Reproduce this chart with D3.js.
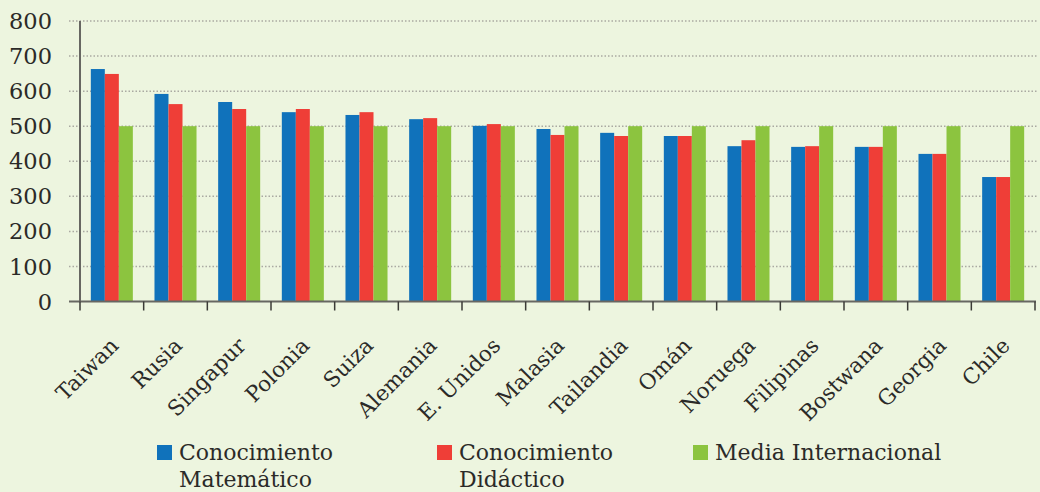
<!DOCTYPE html>
<html>
<head>
<meta charset="utf-8">
<script src="https://cdn.jsdelivr.net/npm/d3@7"></script>
<style>
  body { margin: 0; background: #edf5df; }
  svg { display: block; font-family: "DejaVu Serif", serif; }
</style>
</head>
<body>
<svg width="1040" height="492"></svg>
<script>
// countries, in the order shown
let countries = ["Taiwan", "Rusia", "Singapur", "Polonia", "Suiza", "Alemania", "E. Unidos",
    "Malasia", "Tailandia", "Omán", "Noruega", "Filipinas", "Bostwana", "Georgia", "Chile"];

let matematico = [663, 592, 569, 540, 532, 520, 501, 492, 481, 472, 443, 441, 441, 421, 355];
let didactico  = [649, 563, 549, 549, 540, 523, 506, 475, 472, 472, 460, 443, 441, 421, 355];
let media      = [500, 500, 500, 500, 500, 500, 500, 500, 500, 500, 500, 500, 500, 500, 500];

let seriesNames = ["Conocimiento Matemático", "Conocimiento Didáctico", "Media Internacional"];
let seriesColors = ["#1072bb", "#ef3e37", "#8cc43f"];
let yTicks = [0, 100, 200, 300, 400, 500, 600, 700, 800];

let svg = d3.select("svg");

let x = d3.scaleBand()
    .domain(countries)
    .range([80, 1035])
    .paddingInner(0.34)
    .paddingOuter(0.17);

let x1 = d3.scaleBand()
    .domain(seriesNames)
    .range([0, x.bandwidth()]);

let y = d3.scaleLinear()
    .domain([0, 800])
    .range([301.5, 21]);

let color = d3.scaleOrdinal().domain(seriesNames).range(seriesColors);

// dotted gridlines
svg.append("g")
    .selectAll("line")
    .data(yTicks.slice(1))
    .join("line")
    .attr("x1", 69)
    .attr("x2", 1037)
    .attr("y1", function (d) { return y(d); })
    .attr("y2", function (d) { return y(d); })
    .attr("stroke", "#aaa9a2")
    .attr("stroke-width", 1.5)
    .attr("stroke-dasharray", "1.5,2");

// y labels
svg.append("g")
    .selectAll("text")
    .data(yTicks)
    .join("text")
    .attr("x", 52)
    .attr("y", function (d) { return y(d); })
    .attr("dy", "0.36em")
    .attr("text-anchor", "end")
    .attr("font-size", 22.5)
    .attr("fill", "#2b2a28")
    .text(function (d) { return d; });

// bars
let rows = countries.map(function (c, i) {
    return { country: c, values: [matematico[i], didactico[i], media[i]] };
});

let groups = svg.append("g")
    .selectAll("g")
    .data(rows)
    .join("g")
    .attr("transform", function (d) { return "translate(" + x(d.country) + ",0)"; });

groups.selectAll("rect")
    .data(function (d) {
        return d.values.map(function (v, k) { return { key: seriesNames[k], value: v }; });
    })
    .join("rect")
    .attr("x", function (d) { return x1(d.key); })
    .attr("width", x1.bandwidth())
    .attr("y", function (d) { return y(d.value); })
    .attr("height", function (d) { return y(0) - y(d.value); })
    .attr("fill", function (d) { return color(d.key); });

// axes lines
let axisColor = "#676762";
svg.append("line")
    .attr("x1", 80).attr("x2", 80)
    .attr("y1", y(800)).attr("y2", y(0))
    .attr("stroke", axisColor).attr("stroke-width", 2);

svg.append("line")
    .attr("x1", 69).attr("x2", 1036)
    .attr("y1", y(0)).attr("y2", y(0))
    .attr("stroke", axisColor).attr("stroke-width", 2);

// category ticks at band boundaries
let boundaries = countries.map(function (c) { return x(c) - x.step() * x.paddingInner() / 2; });
boundaries.push(1035);
svg.append("g")
    .selectAll("line")
    .data(boundaries)
    .join("line")
    .attr("x1", function (d) { return d; })
    .attr("x2", function (d) { return d; })
    .attr("y1", y(0))
    .attr("y2", y(0) + 9)
    .attr("stroke", "#3a3a36")
    .attr("stroke-width", 1.5);

// rotated country labels
svg.append("g")
    .selectAll("text")
    .data(countries)
    .join("text")
    .attr("transform", function (d) {
        return "translate(" + (x(d) + x.bandwidth() / 2 + 8) + ",347) rotate(-45)";
    })
    .attr("text-anchor", "end")
    .attr("font-size", 21.5)
    .attr("fill", "#2b2a28")
    .text(function (d) { return d; });

// legend
let legendItems = [
    { lines: ["Conocimiento", "Matemático"], x: 157 },
    { lines: ["Conocimiento", "Didáctico"], x: 437 },
    { lines: ["Media Internacional"], x: 693 }
];

let legend = svg.append("g")
    .selectAll("g")
    .data(legendItems)
    .join("g")
    .attr("transform", function (d) { return "translate(" + d.x + ",445)"; });

legend.append("rect")
    .attr("width", 15)
    .attr("height", 15)
    .attr("fill", function (d, i) { return seriesColors[i]; });

legend.append("text")
    .attr("x", 22)
    .attr("y", 15)
    .attr("font-size", 22)
    .attr("fill", "#2b2a28")
    .selectAll("tspan")
    .data(function (d) { return d.lines; })
    .join("tspan")
    .attr("x", 22)
    .attr("dy", function (d, i) { return i === 0 ? 0 : 27; })
    .text(function (d) { return d; });
</script>
</body>
</html>
